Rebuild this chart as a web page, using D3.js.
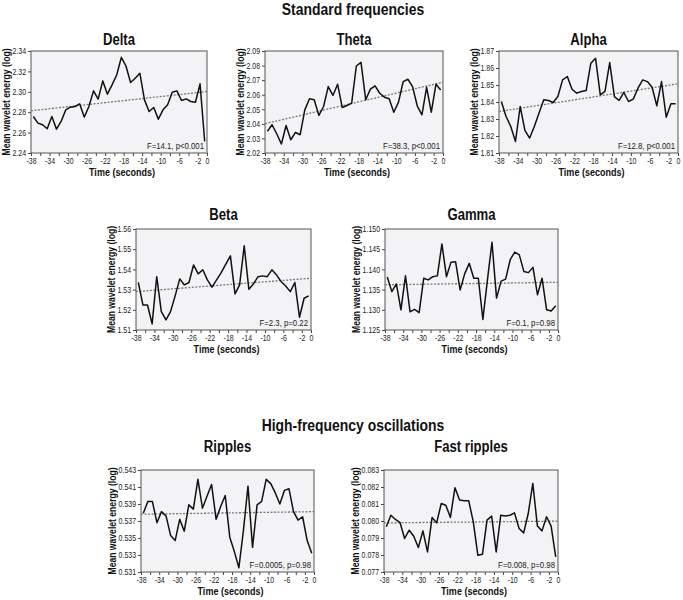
<!DOCTYPE html>
<html>
<head>
<meta charset="utf-8">
<script src="https://cdn.jsdelivr.net/npm/d3@7"></script>
<style>
body { margin: 0; background: #fff; }
svg text { font-family: "Liberation Sans", Arial, sans-serif; }
</style>
</head>
<body>
<svg id="fig" width="683" height="600"></svg>
<script>
// one-second bins, plotted at bin centres
var seconds = [-37.5, -36.5, -35.5, -34.5, -33.5, -32.5, -31.5, -30.5, -29.5, -28.5,
  -27.5, -26.5, -25.5, -24.5, -23.5, -22.5, -21.5, -20.5, -19.5, -18.5,
  -17.5, -16.5, -15.5, -14.5, -13.5, -12.5, -11.5, -10.5, -9.5, -8.5,
  -7.5, -6.5, -5.5, -4.5, -3.5, -2.5, -1.5, -0.5];
var xTicks = [-38, -36, -34, -32, -30, -28, -26, -24, -22, -20, -18, -16, -14, -12, -10, -8, -6, -4, -2, 0];
var xTickLabels = [-38, -34, -30, -26, -22, -18, -14, -10, -6, -2, 0];

var delta = [2.2758, 2.2693, 2.2677, 2.2638, 2.2758, 2.2634, 2.2709, 2.2823, 2.2849, 2.2856,
  2.2882, 2.2752, 2.2856, 2.3009, 2.2928, 2.3107, 2.2977, 2.3068, 2.3165, 2.3338,
  2.3253, 2.3091, 2.3133, 2.3182, 2.2921, 2.2807, 2.2846, 2.2732, 2.2823, 2.2872,
  2.2996, 2.3009, 2.2915, 2.2931, 2.2905, 2.2898, 2.3078, 2.2514];
var theta = [2.0348, 2.0394, 2.0332, 2.0262, 2.0389, 2.0291, 2.0341, 2.0325, 2.0496, 2.0572,
  2.0565, 2.0458, 2.0519, 2.0656, 2.0595, 2.0672, 2.0512, 2.0526, 2.0542, 2.0797,
  2.0822, 2.0565, 2.0638, 2.0661, 2.0610, 2.0583, 2.0572, 2.0480, 2.0549, 2.0690,
  2.0706, 2.0656, 2.0524, 2.0462, 2.0651, 2.0480, 2.0672, 2.0633];
var alpha = [1.8403, 1.8315, 1.8256, 1.8168, 1.8374, 1.8233, 1.8188, 1.8256, 1.8335, 1.8413,
  1.8409, 1.8397, 1.8432, 1.8530, 1.8550, 1.8475, 1.8452, 1.8462, 1.8467, 1.8628,
  1.8657, 1.8442, 1.8462, 1.8632, 1.8432, 1.8409, 1.8456, 1.8403, 1.8417, 1.8481,
  1.8530, 1.8520, 1.8487, 1.8378, 1.8520, 1.8311, 1.8389, 1.8389];
var beta = [1.5336, 1.5224, 1.5224, 1.5130, 1.5364, 1.5191, 1.5150, 1.5191, 1.5269, 1.5353,
  1.5323, 1.5335, 1.5422, 1.5378, 1.5398, 1.5348, 1.5312, 1.5348, 1.5384, 1.5426,
  1.5467, 1.5279, 1.5323, 1.5517, 1.5302, 1.5328, 1.5364, 1.5368, 1.5364, 1.5398,
  1.5373, 1.5340, 1.5318, 1.5290, 1.5335, 1.5163, 1.5257, 1.5269];
var gamma = [1.1381, 1.1345, 1.1364, 1.1300, 1.1384, 1.1295, 1.1301, 1.1293, 1.1378, 1.1374,
  1.1382, 1.1384, 1.1463, 1.1382, 1.1418, 1.1419, 1.1349, 1.1389, 1.1415, 1.1378,
  1.1378, 1.1276, 1.1374, 1.1467, 1.1329, 1.1371, 1.1376, 1.1424, 1.1443, 1.1436,
  1.1395, 1.1392, 1.1405, 1.1337, 1.1378, 1.1300, 1.1297, 1.1310];
var ripples = [0.5379, 0.5393, 0.5393, 0.5368, 0.5381, 0.5376, 0.5353, 0.5347, 0.5372, 0.5358,
  0.5389, 0.5384, 0.5419, 0.5385, 0.5399, 0.5413, 0.5372, 0.5387, 0.5400, 0.5351,
  0.5334, 0.5315, 0.5359, 0.5411, 0.5339, 0.5389, 0.5393, 0.5419, 0.5414, 0.5403,
  0.5390, 0.5406, 0.5408, 0.5381, 0.5371, 0.5375, 0.5347, 0.5332];
var fastRipples = [0.07966, 0.08034, 0.08009, 0.07991, 0.07897, 0.07946, 0.07910, 0.07844, 0.07942, 0.07818,
  0.08021, 0.07989, 0.08103, 0.08093, 0.08021, 0.08196, 0.08123, 0.08119, 0.08119, 0.07995,
  0.07798, 0.07804, 0.08005, 0.08029, 0.07818, 0.08034, 0.08029, 0.08034, 0.08048, 0.07956,
  0.07930, 0.08044, 0.08221, 0.07970, 0.07942, 0.08025, 0.07970, 0.07789];

var panelNames = ["Delta", "Theta", "Alpha", "Beta", "Gamma", "Ripples", "Fast ripples"];
var panelSeries = [delta, theta, alpha, beta, gamma, ripples, fastRipples];
var statLabels = ["F=14.1, p<0.001", "F=38.3, p<0.001", "F=12.8, p<0.001", "F=2.3, p=0.22",
  "F=0.1, p=0.98", "F=0.0005, p=0.98", "F=0.008, p=0.98"];
// regression line value at -38 s and at 0 s
var trendEnds = [[2.2814, 2.3003], [2.0401, 2.0686], [1.8344, 1.8507], [1.5290, 1.5356],
  [1.1362, 1.1368], [0.5378, 0.5381], [0.07989, 0.07999]];
var yTickValues = [
  [2.24, 2.26, 2.28, 2.30, 2.32, 2.34],
  [2.02, 2.03, 2.04, 2.05, 2.06, 2.07, 2.08, 2.09],
  [1.81, 1.82, 1.83, 1.84, 1.85, 1.86, 1.87],
  [1.51, 1.52, 1.53, 1.54, 1.55, 1.56],
  [1.125, 1.130, 1.135, 1.140, 1.145, 1.150],
  [0.531, 0.533, 0.535, 0.537, 0.539, 0.541, 0.543],
  [0.077, 0.078, 0.079, 0.080, 0.081, 0.082, 0.083]];
var yDecimals = [2, 2, 2, 2, 3, 3, 3];
var sectionTitles = ["Standard frequencies", "High-frequency oscillations"];

// layout
var boxes = [
  {x0: 31, x1: 207, y0: 51, y1: 153, ty: 45},
  {x0: 265, x1: 443, y0: 51, y1: 153, ty: 45},
  {x0: 499, x1: 678, y0: 51, y1: 153, ty: 45},
  {x0: 136, x1: 311, y0: 229, y1: 330, ty: 220},
  {x0: 385, x1: 558, y0: 229, y1: 330, ty: 220},
  {x0: 141, x1: 314, y0: 470, y1: 572, ty: 452},
  {x0: 384, x1: 558, y0: 470, y1: 572, ty: 452}];
var sectionY = [15, 431];
var squeeze = 0.82; // fake a narrow face from Liberation Sans

function narrow(sel) {
  sel.each(function() {
    var t = d3.select(this);
    var x = +t.attr('x') || 0;
    var tr = t.attr('transform') || '';
    t.attr('transform', tr + ' translate(' + x + ',0) scale(' + squeeze + ',1) translate(' + (-x) + ',0)');
  });
}

var svg = d3.select('#fig');

svg.selectAll('text.section')
  .data(sectionTitles)
  .enter().append('text')
  .attr('class', 'section')
  .attr('x', 353)
  .attr('y', function(d, i) { return sectionY[i]; })
  .attr('text-anchor', 'middle')
  .attr('font-size', 17)
  .attr('font-weight', 'bold')
  .attr('fill', '#111')
  .text(function(d) { return d; })
  .call(narrow);

panelNames.forEach(function(name, i) {
  var b = boxes[i];
  var ticks = yTickValues[i];
  var x = d3.scaleLinear().domain([-38, 0]).range([b.x0, b.x1]);
  var y = d3.scaleLinear().domain([ticks[0], ticks[ticks.length - 1]]).range([b.y1, b.y0]);
  var g = svg.append('g');

  g.append('rect')
    .attr('x', b.x0).attr('y', b.y0)
    .attr('width', b.x1 - b.x0).attr('height', b.y1 - b.y0)
    .attr('fill', '#f3f3f5');

  var xAxis = g.append('g')
    .attr('transform', 'translate(0,' + b.y1 + ')')
    .call(d3.axisBottom(x).tickValues(xTicks).tickSize(3).tickPadding(2)
      .tickFormat(function(v) { return xTickLabels.indexOf(v) >= 0 ? String(v) : ''; }));
  var yAxis = g.append('g')
    .attr('transform', 'translate(' + b.x0 + ',0)')
    .call(d3.axisLeft(y).tickValues(ticks).tickSize(3).tickPadding(2)
      .tickFormat(function(v) { return v.toFixed(yDecimals[i]); }));
  xAxis.selectAll('text').filter(function() { return this.textContent === ''; }).remove();
  [xAxis, yAxis].forEach(function(a) {
    a.select('.domain').remove();
    a.selectAll('line').attr('stroke', '#444');
    a.selectAll('text').attr('font-size', 8.5).attr('fill', '#222').call(narrow);
  });

  g.append('rect')
    .attr('x', b.x0).attr('y', b.y0)
    .attr('width', b.x1 - b.x0).attr('height', b.y1 - b.y0)
    .attr('fill', 'none')
    .attr('stroke', '#555')
    .attr('stroke-width', 1);

  g.append('line')
    .attr('x1', x(-38)).attr('y1', y(trendEnds[i][0]))
    .attr('x2', x(0)).attr('y2', y(trendEnds[i][1]))
    .attr('stroke', '#777')
    .attr('stroke-width', 1.3)
    .attr('stroke-dasharray', '2,1.5');

  var line = d3.line()
    .x(function(d, k) { return x(seconds[k]); })
    .y(function(d) { return y(d); });

  g.append('path')
    .attr('d', line(panelSeries[i]))
    .attr('fill', 'none')
    .attr('stroke', '#111')
    .attr('stroke-width', 1.5)
    .attr('stroke-linejoin', 'round');

  g.append('text')
    .attr('x', b.x1 - 3).attr('y', b.y1 - 4)
    .attr('text-anchor', 'end')
    .attr('font-size', 9.5)
    .attr('fill', '#222')
    .text(statLabels[i])
    .call(narrow);

  g.append('text')
    .attr('x', (b.x0 + b.x1) / 2).attr('y', b.ty)
    .attr('text-anchor', 'middle')
    .attr('font-size', 16)
    .attr('font-weight', 'bold')
    .attr('fill', '#111')
    .text(name)
    .call(narrow);

  g.append('text')
    .attr('x', (b.x0 + b.x1) / 2 + 3).attr('y', b.y1 + 23.5)
    .attr('text-anchor', 'middle')
    .attr('font-size', 11)
    .attr('font-weight', 'bold')
    .attr('fill', '#111')
    .text('Time (seconds)')
    .call(narrow);

  // y title sits just left of the widest tick label
  var labelW = d3.max(yAxis.selectAll('text').nodes(), function(n) { return n.getComputedTextLength(); }) * squeeze + 5;
  g.append('text')
    .attr('transform', 'translate(' + (b.x0 - labelW - 2.5) + ',' + ((b.y0 + b.y1) / 2) + ') rotate(-90)')
    .attr('text-anchor', 'middle')
    .attr('font-size', 10.5)
    .attr('font-weight', 'bold')
    .attr('fill', '#111')
    .text('Mean wavelet energy (log)')
    .call(narrow);
});
</script>
</body>
</html>
